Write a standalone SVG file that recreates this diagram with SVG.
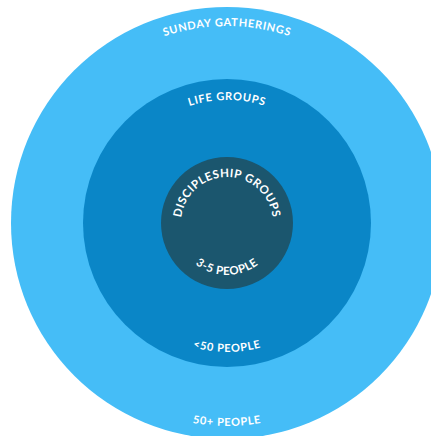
<svg xmlns="http://www.w3.org/2000/svg" width="431" height="436" viewBox="0 0 431 436">
<defs>
<style>
.lbl{fill:#ffffff;font-family:Lato,"Open Sans",sans-serif;font-weight:700;font-size:11px;letter-spacing:0.7px}
.in{font-size:11.5px;letter-spacing:0.5px}
</style>
<path id="pSun" d="M30,223 A197,197 0 0 1 424,223"/>
<path id="pLife" d="M104,223 A123,123 0 0 1 350,223"/>
<path id="pDisc" d="M181,223 A46,46 0 0 1 273,223"/>
<path id="p35" d="M175,223 A52,52 0 0 0 279,223"/>
<path id="p50" d="M98,223 A129,129 0 0 0 356,223"/>
<path id="p50p" d="M24,223 A203,203 0 0 0 430,223"/>
</defs>
<rect width="431" height="436" fill="#ffffff"/>
<g id="sunday">
<circle cx="227" cy="223" r="216" fill="#45BDF7"/>
<text class="lbl" text-anchor="middle"><textPath href="#pSun" startOffset="50%">SUNDAY GATHERINGS</textPath></text>
<text class="lbl" text-anchor="middle"><textPath href="#p50p" startOffset="50%">50+ PEOPLE</textPath></text>
</g>
<g id="life">
<circle cx="227" cy="223" r="144" fill="#0A86C7"/>
<text class="lbl" text-anchor="middle"><textPath href="#pLife" startOffset="50%">LIFE GROUPS</textPath></text>
<text class="lbl" text-anchor="middle"><textPath href="#p50" startOffset="50%">&lt;50 PEOPLE</textPath></text>
</g>
<g id="disc">
<circle cx="227" cy="223" r="66" fill="#1B566E"/>
<text class="lbl in" text-anchor="middle"><textPath href="#pDisc" startOffset="50%">DISCIPLESHIP GROUPS</textPath></text>
<text class="lbl in" text-anchor="middle"><textPath href="#p35" startOffset="50%">3-5 PEOPLE</textPath></text>
</g>
<g id="connectors"/>
</svg>
